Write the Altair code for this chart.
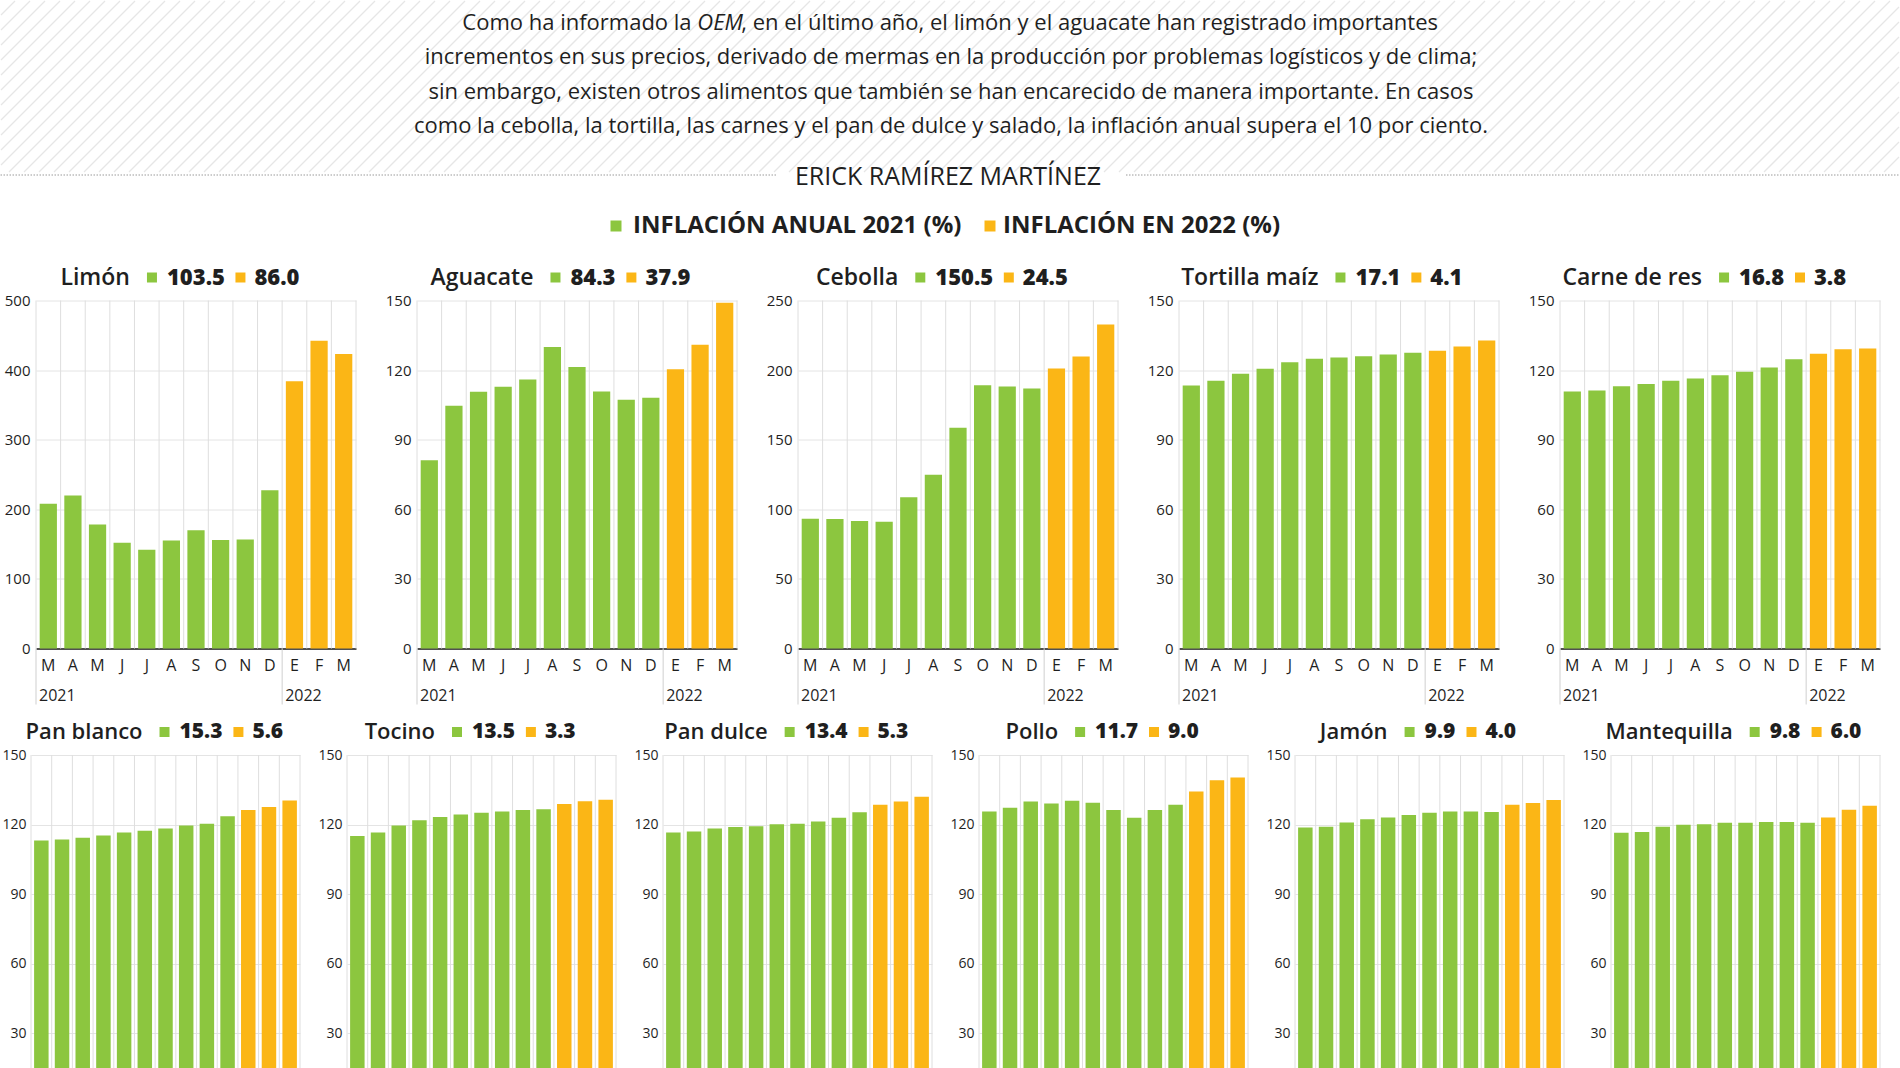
import altair as alt
import pandas as pd

FONT = "Open Sans"
VERDE = "#8cc63f"
NARANJA = "#fbb616"
TEXTO = "#1f1f1f"
GRID_H = "#e4e4e4"
GRID_V = "#dedede"

# ---------------- data ----------------
parrafo_l1 = ["Como ha informado la", "OEM",
              ", en el último año, el limón y el aguacate han registrado importantes"]
parrafo = [
    "incrementos en sus precios, derivado de mermas en la producción por problemas logísticos y de clima;",
    "sin embargo, existen otros alimentos que también se han encarecido de manera importante. En casos",
    "como la cebolla, la tortilla, las carnes y el pan de dulce y salado, la inflación anual supera el 10 por ciento.",
]
autor = "ERICK RAMÍREZ MARTÍNEZ"
leyenda = ["INFLACIÓN ANUAL 2021 (%)", "INFLACIÓN EN 2022 (%)"]

meses = ["M", "A", "M", "J", "J", "A", "S", "O", "N", "D", "E", "F", "M"]
anios = ["2021"] * 10 + ["2022"] * 3

productos = ["Limón", "Aguacate", "Cebolla", "Tortilla maíz", "Carne de res",
             "Pan blanco", "Tocino", "Pan dulce", "Pollo", "Jamón", "Mantequilla"]
infl_2021 = ["103.5", "84.3", "150.5", "17.1", "16.8", "15.3", "13.5", "13.4", "11.7", "9.9", "9.8"]
infl_2022 = ["86.0", "37.9", "24.5", "4.1", "3.8", "5.6", "3.3", "5.3", "9.0", "4.0", "6.0"]
eje_max = [500, 150, 250, 150, 150, 150, 150, 150, 150, 150, 150]
eje_paso = [100, 30, 50, 30, 30, 30, 30, 30, 30, 30, 30]

limon = [208, 220, 178, 152, 142, 155, 170, 156, 156.5, 227.5, 384, 442, 423]
aguacate = [81.1, 104.6, 110.7, 112.8, 116.0, 130.0, 121.3, 110.8, 107.2, 108.1, 120.4, 130.9, 149.0]
cebolla = [93.3, 93.1, 91.6, 91.1, 108.6, 124.9, 158.6, 189.2, 188.3, 186.8, 201.2, 209.8, 232.8]
tortilla = [113.4, 115.4, 118.4, 120.6, 123.4, 124.9, 125.4, 126.0, 126.7, 127.5, 128.3, 130.2, 132.8]
carne = [110.8, 111.2, 113.0, 114.0, 115.4, 116.4, 117.8, 119.3, 121.1, 124.7, 127.0, 129.0, 129.3]
pan_blanco = [113.1, 113.6, 114.3, 115.3, 116.6, 117.4, 118.3, 119.6, 120.4, 123.6, 126.3, 127.6, 130.4]
tocino = [115.1, 116.6, 119.6, 121.9, 123.3, 124.3, 125.1, 125.7, 126.3, 126.6, 128.9, 130.1, 130.7]
pan_dulce = [116.6, 117.0, 118.3, 119.0, 119.3, 120.1, 120.4, 121.3, 123.0, 125.3, 128.6, 130.0, 132.0]
pollo = [125.6, 127.3, 130.0, 129.1, 130.3, 129.4, 126.3, 123.0, 126.3, 128.6, 134.3, 139.1, 140.3]
jamon = [118.7, 119.1, 120.9, 122.3, 123.1, 124.1, 125.1, 125.6, 125.6, 125.4, 128.6, 129.3, 130.6]
mantequilla = [116.5, 116.8, 119.1, 119.9, 120.2, 120.8, 120.8, 121.1, 121.1, 120.8, 123.1, 126.4, 128.1]

series = [limon, aguacate, cebolla, tortilla, carne,
          pan_blanco, tocino, pan_dulce, pollo, jamon, mantequilla]

claves = [f"{i:02d}{m}" for i, m in enumerate(meses)]
inicio_anio = [i == 0 or anios[i] != anios[i - 1] for i in range(len(meses))]

# ---------------- helpers ----------------
EM = {' ': 0.26, 'a': 0.556, 'b': 0.613, 'c': 0.476, 'd': 0.613, 'e': 0.561, 'f': 0.339,
      'g': 0.548, 'h': 0.614, 'i': 0.253, 'í': 0.253, 'j': 0.253, 'k': 0.525, 'l': 0.253,
      'm': 0.93, 'n': 0.614, 'o': 0.604, 'ó': 0.604, 'p': 0.613, 'q': 0.613, 'r': 0.408,
      's': 0.477, 't': 0.353, 'u': 0.614, 'v': 0.501, 'w': 0.778, 'x': 0.524, 'y': 0.502,
      'z': 0.471, 'A': 0.633, 'C': 0.631, 'J': 0.267, 'L': 0.539, 'M': 0.889, 'P': 0.604,
      'T': 0.542, '.': 0.28}


def ancho(txt, size, factor=1.0):
    w = 0.0
    for c in txt:
        if c.isdigit():
            w += 0.572
        else:
            w += EM.get(c, 0.58) * factor
    return w * size


def one(v="x"):
    return pd.DataFrame({"t": [v]})


def panel(i, W, H, ylab, ypad, tsize, nsize, shift, mlab):
    df = pd.DataFrame({"clave": claves, "anio": anios, "valor": series[i],
                       "inicio": inicio_anio})
    ymax = eje_max[i]
    ticks = list(range(0, ymax + 1, eje_paso[i]))

    def X(bp=None):
        kw = {}
        if bp is not None:
            kw["bandPosition"] = bp
        return alt.X(
            "clave:O", title=None,
            scale=alt.Scale(paddingInner=0, paddingOuter=0),
            axis=alt.Axis(grid=False, ticks=False, labelAngle=0, labelOverlap=False,
                          labelExpr="substring(datum.value, 2)", labelFont=FONT,
                          labelFontSize=mlab, labelColor=TEXTO, labelPadding=9,
                          domainColor="#1a1a1a", domainWidth=1.6),
            **kw)

    base = alt.Chart(df)
    vgrid = base.mark_rule(color=GRID_V, strokeWidth=1).encode(
        x=X(0), y=alt.value(0), y2=alt.value(H))
    bars = base.mark_bar(width=alt.RelativeBandSize(0.7)).encode(
        x=X(),
        y=alt.Y("valor:Q", title=None,
                scale=alt.Scale(domain=[0, ymax], nice=False),
                axis=alt.Axis(values=ticks, grid=True, gridColor=GRID_H, ticks=False,
                              domain=False, labelFont=FONT, labelFontSize=ylab,
                              labelColor=TEXTO, labelPadding=ypad)),
        color=alt.Color("anio:N", legend=None,
                        scale=alt.Scale(domain=["2021", "2022"], range=[VERDE, NARANJA])),
    )
    sep = base.transform_filter("datum.inicio").mark_rule(color="#cfcfcf").encode(
        x=X(0), y=alt.value(H), y2=alt.value(H + 56))
    yr = base.transform_filter("datum.inicio").mark_text(
        align="left", baseline="middle", dx=3, font=FONT, fontSize=mlab, color=TEXTO
    ).encode(x=X(0), y=alt.value(H + 47), text="anio:N")
    edge = alt.Chart(one()).mark_rule(color=GRID_V).encode(
        x=alt.value(W), y=alt.value(0), y2=alt.value(H))

    # title: name  ■ v1  ■ v2
    name, v1, v2 = productos[i], infl_2021[i], infl_2022[i]
    sq = 10
    wn = ancho(name, tsize, 1.04)
    w1 = ancho(v1, nsize)
    w2 = ancho(v2, nsize)
    total = wn + 17 + sq + 10 + w1 + 12 + sq + 9 + w2
    x0 = W / 2 - shift - total / 2
    name_end = x0 + wn
    s1 = name_end + 17 + sq / 2
    v1x = s1 + sq / 2 + 10
    s2 = v1x + w1 + 12 + sq / 2
    v2x = s2 + sq / 2 + 9
    cy = -23
    t_name = alt.Chart(one(name)).mark_text(
        align="right", baseline="middle", font=FONT, fontSize=tsize, fontWeight=600,
        color=TEXTO).encode(text="t:N", x=alt.value(name_end), y=alt.value(cy))
    q1 = alt.Chart(one()).mark_square(size=sq * sq, color=VERDE, opacity=1).encode(
        x=alt.value(s1), y=alt.value(cy))
    t_v1 = alt.Chart(one(v1)).mark_text(
        align="left", baseline="middle", font=FONT, fontSize=nsize, fontWeight=800,
        color=TEXTO).encode(text="t:N", x=alt.value(v1x), y=alt.value(cy))
    q2 = alt.Chart(one()).mark_square(size=sq * sq, color=NARANJA, opacity=1).encode(
        x=alt.value(s2), y=alt.value(cy))
    t_v2 = alt.Chart(one(v2)).mark_text(
        align="left", baseline="middle", font=FONT, fontSize=nsize, fontWeight=800,
        color=TEXTO).encode(text="t:N", x=alt.value(v2x), y=alt.value(cy))

    return alt.layer(vgrid, bars, sep, yr, edge, t_name, q1, t_v1, q2, t_v2).properties(
        width=W, height=H)


def spacer():
    # 1px invisible cell that pins the row's origin to the page's left edge
    return alt.Chart(one()).mark_rule(strokeOpacity=0, strokeWidth=1).encode(
        x=alt.value(0.5), y=alt.value(0), y2=alt.value(1)).properties(width=1, height=1)


# ---------------- header (page coordinates) ----------------
HW, HH = 1900, 245
T_ALTO, T_PASO = 171, 15
trama = []
for k in range(-T_ALTO, HW, T_PASO):
    xa, ya = k, T_ALTO + 1
    xb, yb = k + T_ALTO, 1
    if xa < 1:
        ya -= (1 - xa)
        xa = 1
    if xb > HW - 1:
        yb += (xb - (HW - 1))
        xb = HW - 1
    if xa < xb:
        trama.append({"xa": xa, "ya": ya, "xb": xb, "yb": yb})
hatch = alt.Chart(pd.DataFrame(trama)).mark_rule(color="#e6e6e6", strokeWidth=1.3).encode(
    x=alt.X("xa:Q", scale=None, axis=None), x2="xb:Q",
    y=alt.Y("ya:Q", scale=None, axis=None), y2="yb:Q")

L1_START = 697.3
p_a = alt.Chart(one(parrafo_l1[0])).mark_text(
    font=FONT, fontSize=22, baseline="top", align="right", color=TEXTO
).encode(text="t:N", x=alt.value(L1_START - 5.7), y=alt.value(13))
p_b = alt.Chart(one(parrafo_l1[1])).mark_text(
    font=FONT, fontSize=22, fontStyle="italic", baseline="top", align="left", color=TEXTO
).encode(text="t:N", x=alt.value(L1_START), y=alt.value(13))
p_c = alt.Chart(one(parrafo_l1[2])).mark_text(
    font=FONT, fontSize=22, baseline="top", align="left", color=TEXTO
).encode(text="t:N", x=alt.value(L1_START + 44), y=alt.value(13))
hdr_txt = alt.Chart(pd.DataFrame({"t": ["\n".join(parrafo)]})).mark_text(
    font=FONT, fontSize=22, lineBreak="\n", lineHeight=34.3, baseline="top",
    align="center", color=TEXTO).encode(text="t:N", x=alt.value(951), y=alt.value(13 + 34.3))
hdr_autor = alt.Chart(one(autor)).mark_text(
    font=FONT, fontSize=25, baseline="middle", align="center", color=TEXTO
).encode(text="t:N", x=alt.value(948), y=alt.value(177))
dot1 = alt.Chart(one()).mark_rule(color="#9a9a9a", strokeDash=[1.5, 1.5]).encode(
    x=alt.value(0.5), x2=alt.value(776), y=alt.value(175))
dot2 = alt.Chart(one()).mark_rule(color="#9a9a9a", strokeDash=[1.5, 1.5]).encode(
    x=alt.value(1126), x2=alt.value(HW - 0.5), y=alt.value(175))
lq1 = alt.Chart(one()).mark_square(size=121, color=VERDE, opacity=1).encode(
    x=alt.value(616), y=alt.value(226))
lq2 = alt.Chart(one()).mark_square(size=121, color=NARANJA, opacity=1).encode(
    x=alt.value(990), y=alt.value(226))
lt1 = alt.Chart(one(leyenda[0])).mark_text(
    font=FONT, fontSize=24, fontWeight="bold", baseline="middle", align="left",
    color=TEXTO).encode(text="t:N", x=alt.value(633), y=alt.value(226))
lt2 = alt.Chart(one(leyenda[1])).mark_text(
    font=FONT, fontSize=24, fontWeight="bold", baseline="middle", align="left",
    color=TEXTO).encode(text="t:N", x=alt.value(1003), y=alt.value(226))
header = alt.layer(hatch, p_a, p_b, p_c, hdr_txt, hdr_autor, dot1, dot2,
                   lq1, lq2, lt1, lt2).properties(width=HW, height=HH)

# ---------------- rows ----------------
H = 348
row1 = alt.hconcat(
    spacer(),
    alt.hconcat(*[panel(i, 320, H, 15, 6, 23, 22, 17, 16) for i in range(5)],
                spacing=61, bounds="flush"),
    spacing=35, bounds="flush")
row2 = alt.hconcat(
    spacer(),
    alt.hconcat(*[panel(i, 269, H, 14, 5, 22, 21, 12, 15) for i in range(5, 11)],
                spacing=47, bounds="flush"),
    spacing=30, bounds="flush")

rows = alt.vconcat(row1, row2, spacing=15.5)
chart = alt.vconcat(header, rows, spacing=21.5).properties(
    padding=0, background="white").configure_view(stroke=None)

chart.save("out.html", embed_options={"renderer": "svg", "actions": False})
